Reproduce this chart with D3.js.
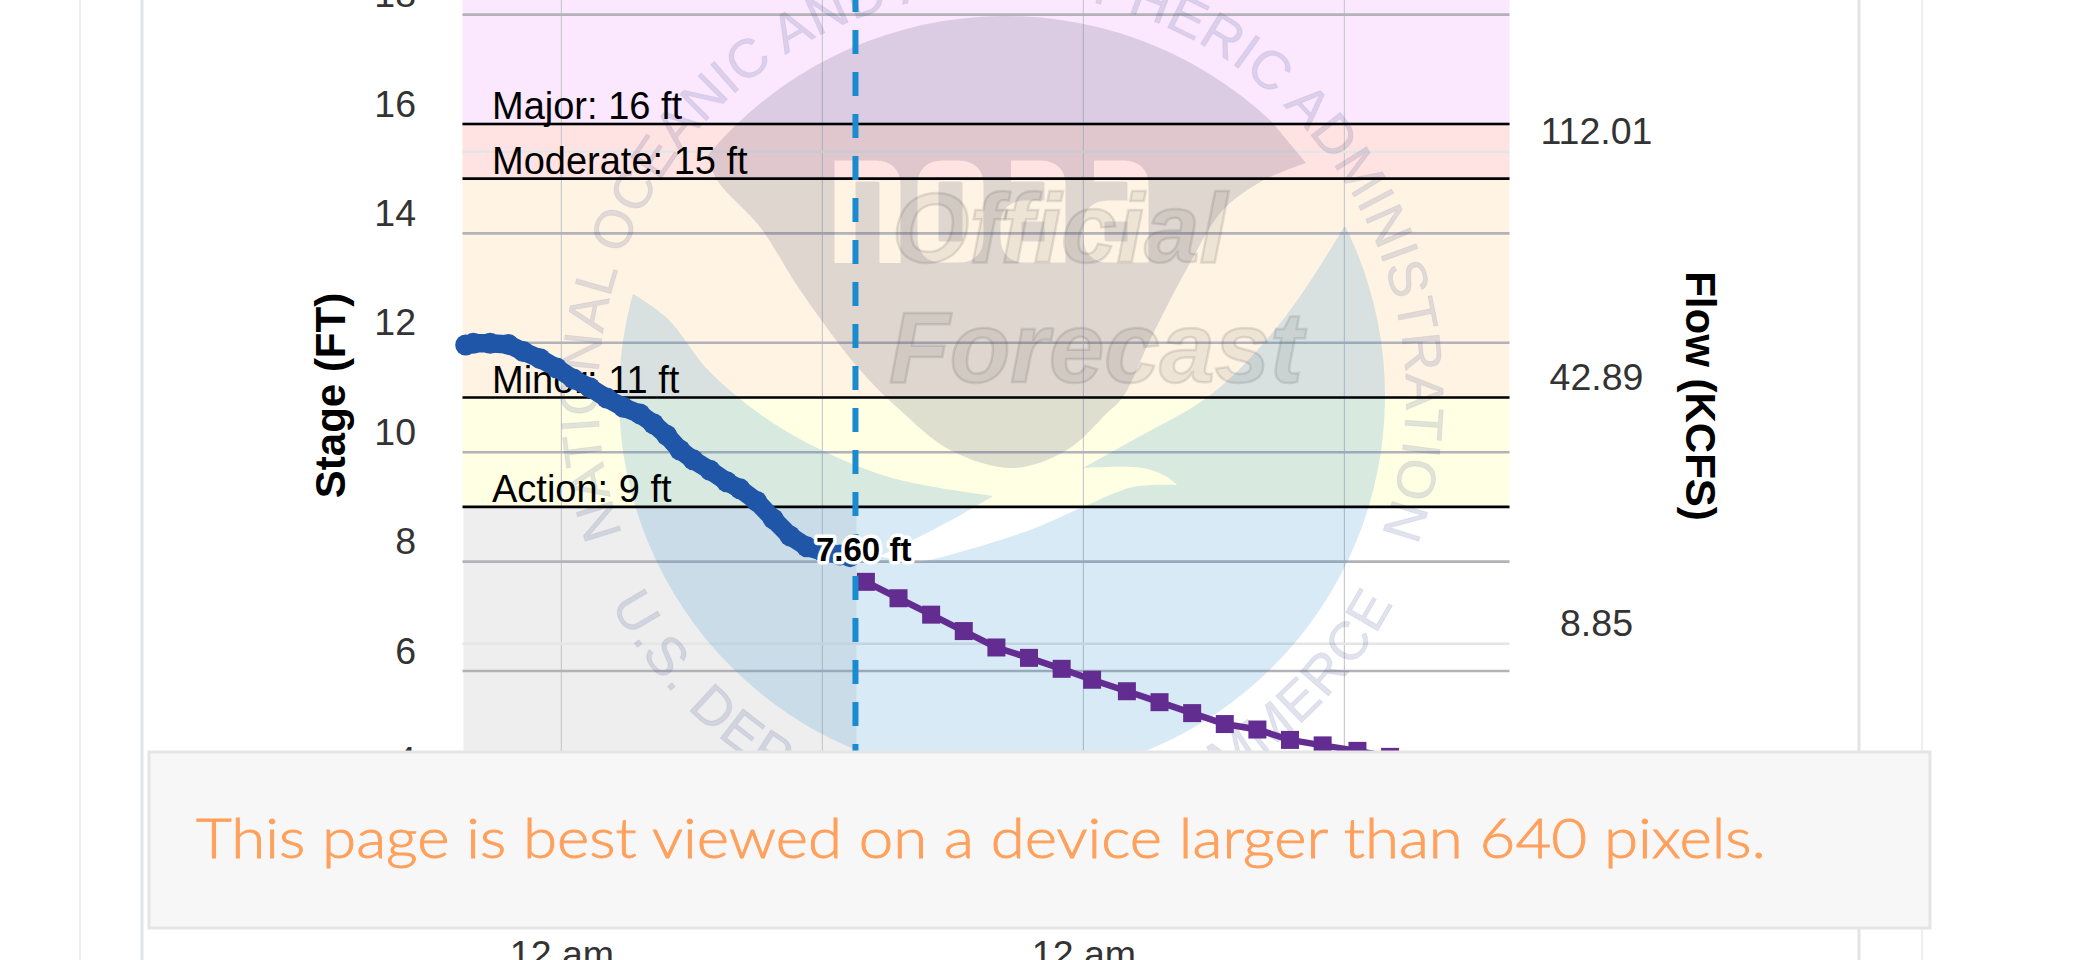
<!DOCTYPE html>
<html>
<head>
<meta charset="utf-8">
<script src="https://cdn.jsdelivr.net/npm/d3@7"></script>
<style>
html,body{margin:0;padding:0;background:#fff;overflow:hidden;width:2079px;height:960px}
svg{display:block;font-family:"Liberation Sans",Arial,sans-serif}
</style>
</head>
<body>
<svg id="chart" width="2079" height="960"></svg>
<script>
const stageTicks = [4, 6, 8, 10, 12, 14, 16, 18];
const flowTicks = ["8.85", "42.89", "112.01"];
const timeGridHours = [0, 12, 24, 36];
const timeLabelHours = [0, 24];
const thresholdNames = ["Major", "Moderate", "Minor", "Action"];
const thresholdStages = [16, 15, 11, 9];
const bandColors = ["#fbe8fe", "#ffe2e2", "#fff4e4", "#ffffe4"];
const observedHours = [-4.4,-4.05,-3.28,-2.44,-1.75,-0.98,-0.22,0.55,1.31,2.08,2.85,3.61,4.23,4.84,5.45,6.06,6.83,7.6,8.21,8.98,9.74,10.51,11.28,12.04,12.81,13.27];
const observedStage = [11.96,11.99,11.99,11.97,11.84,11.71,11.54,11.34,11.18,10.99,10.82,10.7,10.52,10.31,10.04,9.86,9.67,9.46,9.33,9.1,8.78,8.47,8.27,8.18,8.12,8.09];
const forecastHours = [14,15.5,17,18.5,20,21.5,23,24.4,26,27.5,29,30.5,32,33.5,35,36.6,38.1];
const forecastStage = [7.63,7.33,7.03,6.73,6.43,6.24,6.04,5.84,5.63,5.43,5.23,5.03,4.93,4.74,4.64,4.54,4.43];
const nowHour = 13.52;
const latestLabel = "7.60 ft";

const svg = d3.select("#chart");
const L = 462.5, R = 1509.5, BOT = 751;
const x = d3.scaleLinear().domain([0, 24]).range([561.4, 1083.4]);
const y = d3.scaleLinear().domain([6, 18]).range([671, 14.6]);
const yFlow = d3.scalePoint().domain(flowTicks).range([643.7, 151.7]);

// page frame
svg.selectAll(".frame").data([[80,"#f0f0f2",2],[142,"#e1e4e8",3],[1859,"#e3e3e7",3],[1922,"#eeeeee",2]])
  .join("line").attr("x1",d=>d[0]).attr("x2",d=>d[0]).attr("y1",0).attr("y2",960)
  .attr("stroke",d=>d[1]).attr("stroke-width",d=>d[2]);

// stage bands
const bandEdges = [-20, ...thresholdStages.map(y)];
svg.selectAll(".band").data(bandColors).join("rect")
  .attr("x",L).attr("width",R-L).attr("y",(d,i)=>bandEdges[i])
  .attr("height",(d,i)=>bandEdges[i+1]-bandEdges[i]).attr("fill",d=>d);
// past shading below the action stage
svg.append("rect").attr("x",L+1).attr("y",y(9)).attr("width",x(nowHour)+1-L-1).attr("height",BOT-y(9)).attr("fill","#eeeeee");

// grid
svg.selectAll(".vg").data(timeGridHours).join("line")
  .attr("x1",x).attr("x2",x).attr("y1",0).attr("y2",BOT)
  .attr("stroke","#c9c9ce").attr("stroke-width",1.2);
svg.selectAll(".fg").data(flowTicks).join("line")
  .attr("x1",L).attr("x2",R).attr("y1",yFlow).attr("y2",yFlow)
  .attr("stroke","#e5e5e5").attr("stroke-width",2.6);
svg.selectAll(".sg").data(stageTicks).join("line")
  .attr("x1",L).attr("x2",R).attr("y1",y).attr("y2",y)
  .attr("stroke","#b2b2b8").attr("stroke-width",2.6);

// watermark (NOAA seal)
const defs = svg.append("defs");
const cx = 1002, cy = 396, cr = 383;
defs.append("clipPath").attr("id","disc").append("circle").attr("cx",cx).attr("cy",cy).attr("r",cr);
const curve = d3.line().curve(d3.curveCatmullRom.alpha(0.5));
const blueTop = [[630,292],[667,318],[710,372],[773,423],[843,460],[900,480],[993,496]];
const blueMid = [[993,496],[957,517],[913,540],[880,556]];
const blueLow = [[880,556],[913,562],[967,550],[1030,530],[1083,507],[1133,487],[1177,485]];
const blueTip = [[1177,485],[1167,477],[1143,468],[1083,468]];
const blueRight = [[1083,468],[1133,440],[1213,393],[1285,317],[1344,227]];
const bluePath = "M600,292L630,292" + [blueTop,blueMid,blueLow,blueTip,blueRight].map(p=>"L"+curve(p).slice(1)).join("") + "L1420,227L1420,820L600,820Z";
const wm = svg.append("g");
wm.append("path").attr("d",bluePath).attr("clip-path","url(#disc)").attr("fill","rgb(38,139,205)").attr("fill-opacity",0.18);

const mask = defs.append("mask").attr("id","noaa").attr("maskUnits","userSpaceOnUse").attr("x",0).attr("y",0).attr("width",2079).attr("height",960);
mask.append("rect").attr("width",2079).attr("height",960).attr("fill","#fff");
const letterPaths = [
 "M845,263V171H876Q890,171 890,185V263",
 "M928,185Q928,171 942,171H959Q973,171 973,185V238Q973,252 959,252H942Q928,252 928,238Z",
 "M1011,171H1041Q1055,171 1055,185V252H1025Q1011,252 1011,238V224Q1011,211 1025,211H1055",
 "M1094,171H1124Q1138,171 1138,185V252H1108Q1094,252 1094,238V224Q1094,211 1108,211H1138"];
mask.selectAll("path").data(letterPaths).join("path").attr("d",d=>d).attr("fill","none").attr("stroke","#000").attr("stroke-width",21);

const birdEdge = [[1306,163],[1264,180],[1223,210],[1190,263],[1150,340],[1123,397],[1107,413],[1067,450],[1013,468],[950,450],[900,410],[860,370],[800,290],[760,227],[717,180],[708,155]];
wm.append("path").attr("d","M708,155A388,388 0 0 1 1271,121L1306,163" + "L"+curve(birdEdge).slice(1) + "Z")
  .attr("mask","url(#noaa)").attr("fill","rgb(85,85,115)").attr("fill-opacity",0.19);

const ringBase = 404, ringOuter = 443;
const toPt = (r,a)=>[cx+r*Math.sin(a*Math.PI/180), cy-r*Math.cos(a*Math.PI/180)];
const pA = toPt(ringBase,-110), pB = toPt(ringBase,110);
const qA = toPt(ringOuter,-118), qB = toPt(ringOuter,118);
defs.append("path").attr("id","arcTop").attr("d",`M${pA}A${ringBase},${ringBase} 0 1 1 ${pB}`);
defs.append("path").attr("id","arcBot").attr("d",`M${qA}A${ringOuter},${ringOuter} 0 0 0 ${qB}`);
const ringStyle = s=>s.attr("font-size",54).attr("fill","rgb(60,80,140)").attr("fill-opacity",0.16).attr("stroke","rgb(60,80,140)").attr("stroke-opacity",0.08);
ringStyle(wm.append("text")).append("textPath").attr("href","#arcTop").attr("textLength",Math.round(ringBase*220*Math.PI/180)).attr("lengthAdjust","spacing").text("NATIONAL OCEANIC AND ATMOSPHERIC ADMINISTRATION");
ringStyle(wm.append("text")).append("textPath").attr("href","#arcBot").attr("textLength",Math.round(ringOuter*124*Math.PI/180)).attr("lengthAdjust","spacing").text("U.S. DEPARTMENT OF COMMERCE");
[["Official",892,262,335,98],["Forecast",889,382,414,100]].forEach(t=>{
  wm.append("text").attr("x",t[1]).attr("y",t[2]).attr("textLength",t[3]).attr("lengthAdjust","spacingAndGlyphs")
   .attr("font-size",t[4]).attr("font-weight","bold").attr("font-style","italic")
   .attr("fill","rgb(90,90,90)").attr("fill-opacity",0.1).attr("stroke","rgb(90,90,90)").attr("stroke-opacity",0.16).attr("stroke-width",2.5).text(t[0]);
});

// threshold lines
svg.selectAll(".th").data(thresholdStages).join("line")
  .attr("x1",L).attr("x2",R).attr("y1",y).attr("y2",y).attr("stroke","#000").attr("stroke-width",2.7);
svg.selectAll(".thl").data(thresholdStages).join("text")
  .attr("x",492).attr("y",d=>y(d)-5).attr("font-size",38).attr("fill","#000")
  .text((d,i)=>`${thresholdNames[i]}: ${d} ft`);

// axes
const tickFont = g=>{g.select(".domain").remove();g.selectAll("text").attr("font-size",37.5).attr("font-family",'"Liberation Sans",Arial,sans-serif').attr("fill","#333");};
svg.append("g").attr("transform","translate(416,0)")
  .call(d3.axisLeft(y).tickValues(stageTicks).tickSize(0).tickPadding(0)).call(tickFont)
  .selectAll("text").attr("dy",-8);
svg.append("g").attr("transform","translate(1596.5,0)")
  .call(d3.axisRight(yFlow).tickSize(0).tickPadding(0)).call(tickFont)
  .selectAll("text").attr("dy",-8.5).attr("text-anchor","middle");
svg.append("g").attr("transform","translate(0,967)")
  .call(d3.axisBottom(x).tickValues(timeLabelHours).tickSize(0).tickPadding(0).tickFormat(()=>"12 am")).call(tickFont)
  .selectAll("text").attr("dy",0);
svg.append("text").attr("transform","translate(345,395.5) rotate(-90)").attr("text-anchor","middle")
  .attr("font-size",42).attr("font-weight","bold").attr("fill","#000").text("Stage (FT)");
svg.append("text").attr("transform","translate(1686,396) rotate(90)").attr("text-anchor","middle")
  .attr("font-size",42).attr("font-weight","bold").attr("fill","#000").text("Flow (KCFS)");

// observed
const obs = observedHours.map((h,i)=>[h,observedStage[i]]);
const fc = forecastHours.map((h,i)=>[h,forecastStage[i]]);
const line = d3.line().x(d=>x(d[0])).y(d=>y(d[1]));
svg.append("path").attr("d",line(obs)).attr("fill","none").attr("stroke","#2056a8").attr("stroke-width",18.5).attr("stroke-linejoin","round");
svg.selectAll(".obs").data(obs).join("circle").attr("cx",d=>x(d[0])).attr("cy",d=>y(d[1])).attr("r",10.5).attr("fill","#2056a8");

// forecast
svg.append("path").attr("d",line(fc)).attr("fill","none").attr("stroke","#622c91").attr("stroke-width",6.5);
svg.selectAll(".fc").data(fc).join("path").attr("d",d3.symbol(d3.symbolSquare,324))
  .attr("transform",d=>`translate(${x(d[0])},${y(d[1])})`).attr("fill","#622c91");

// now line
svg.append("line").attr("x1",x(nowHour)).attr("x2",x(nowHour)).attr("y1",-12).attr("y2",BOT)
  .attr("stroke","#1a8bcf").attr("stroke-width",6).attr("stroke-dasharray","24 18");
// latest label
svg.append("text").attr("x",816).attr("y",561).attr("font-size",33).attr("font-weight","bold")
  .attr("fill","#000").attr("stroke","#fff").attr("stroke-width",7).attr("stroke-linejoin","round").attr("paint-order","stroke").text(latestLabel);

// small-screen notice
svg.append("rect").attr("x",149).attr("y",752).attr("width",1781).attr("height",176).attr("fill","#f7f7f7").attr("stroke","#e5e5e5").attr("stroke-width",3);
svg.append("text").attr("x",196).attr("y",858).attr("font-family","Lato").attr("font-weight",300).attr("font-size",56).attr("fill","#ffa05c").attr("stroke","#ffa05c").attr("stroke-width",0.9)
  .attr("textLength",1570).attr("lengthAdjust","spacingAndGlyphs").text("This page is best viewed on a device larger than 640 pixels.");
</script>
</body>
</html>
